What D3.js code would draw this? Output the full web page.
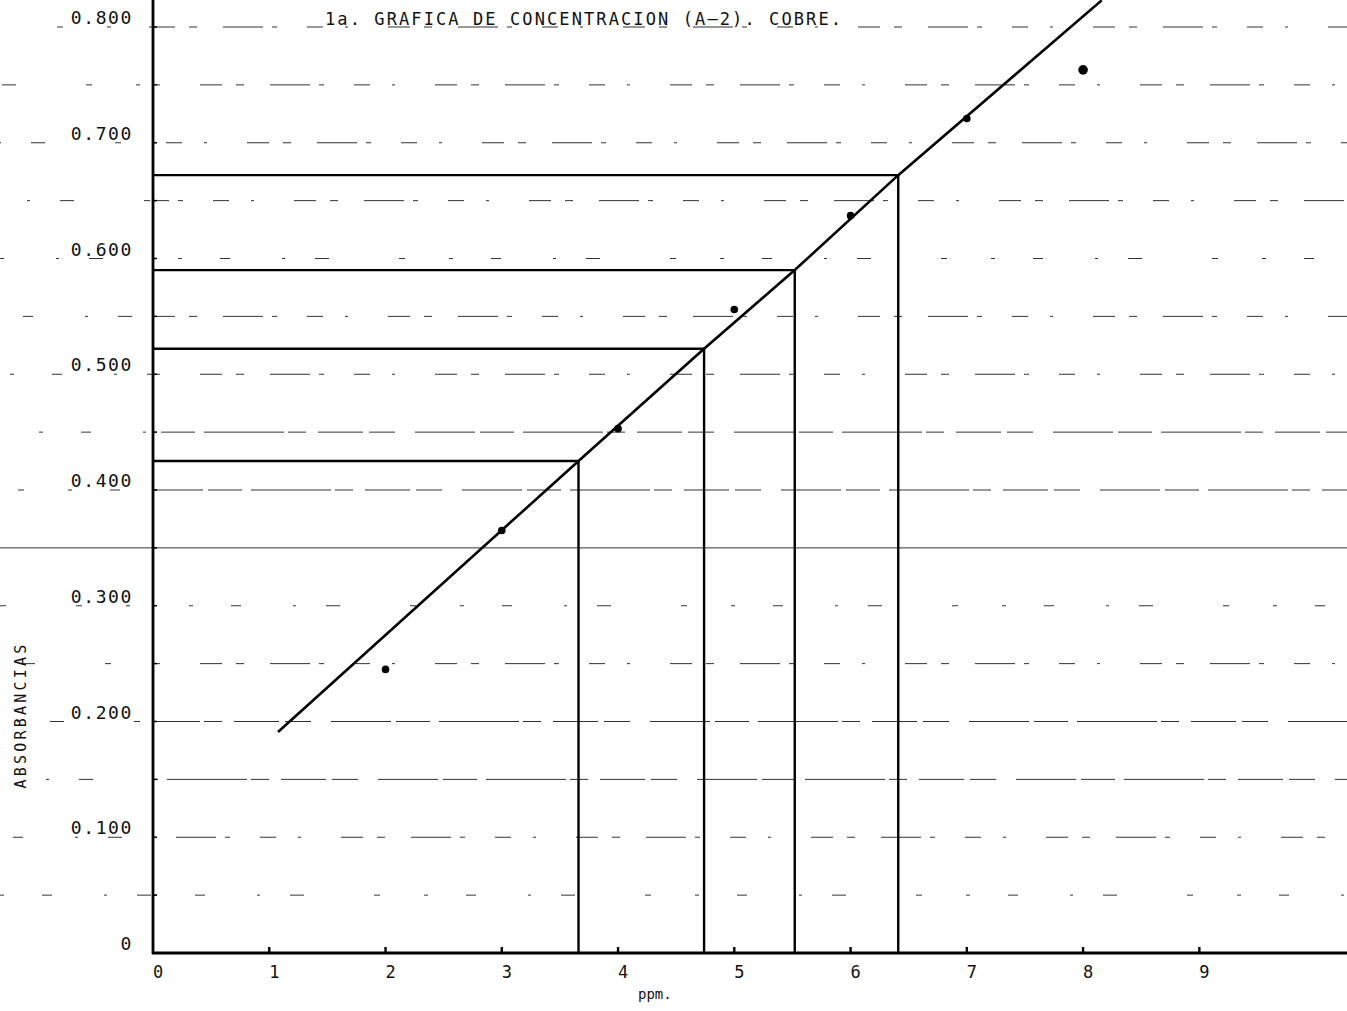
<!DOCTYPE html>
<html>
<head>
<meta charset="UTF-8">
<title>Grafica de concentracion</title>
<style>
  body { margin: 0; background: #fff; }
  svg { display: block; }
  text { font-family: 'DejaVu Sans Mono', 'Liberation Mono', monospace; fill: #111; }
  .grid line { stroke: #333; stroke-width: 1; }
  .axis line { stroke: #000; stroke-width: 2.8; }
  .ref line { stroke: #000; stroke-width: 2.4; }
  .calib { fill: none; stroke: #000; stroke-width: 2.6; }
</style>
</head>
<body>
<script src="https://cdnjs.cloudflare.com/ajax/libs/d3/7.8.5/d3.min.js"></script>
<script>
// data
var title = "1a. GRAFICA DE CONCENTRACION (A\u20132). COBRE.";
var xTicks = [0, 1, 2, 3, 4, 5, 6, 7, 8, 9];
var yTicks = [0, 0.1, 0.2, 0.3, 0.4, 0.5, 0.6, 0.7, 0.8];
var yTickLabels = ["0", "0.100", "0.200", "0.300", "0.400", "0.500", "0.600", "0.700", "0.800"];
var gridRows = [0.05, 0.10, 0.15, 0.20, 0.25, 0.30, 0.35, 0.40, 0.45, 0.50, 0.55, 0.60, 0.65, 0.70, 0.75, 0.80];
// measured standards (ppm, absorbance)
var stdPpm = [2, 3, 4, 5, 6, 7, 8];
var stdAbs = [0.245, 0.365, 0.453, 0.556, 0.637, 0.721, 0.763];
// hand drawn calibration line
var lineX = [1.075, 3.66, 4.74, 5.52, 6.41, 8.16];
var lineY = [0.191, 0.425, 0.522, 0.590, 0.672, 0.823];
// samples read back on the line
var sampleX = [3.66, 4.74, 5.52, 6.41];
var sampleY = [0.425, 0.522, 0.590, 0.672];

var width = 1347, height = 1011;
var x0 = 153, y0 = 953;

var x = d3.scaleLinear().domain([0, 10.27]).range([x0, width]);
var y = d3.scaleLinear().domain([0, 0.8]).range([y0, 27]);

// dash look of the scanned grid paper, by row
var dashStyle = {
    s: "4,38,10,52,3,30,14,70,6,44",
    m: "22,14,8,26,40,9,5,30,16,22,3,40",
    d: "60,5,34,9,80,4,18,12,45,6,26,20",
    solid: "none"
};
var rowLook = ["s", "m", "d", "d", "m", "s", "solid", "d", "d", "m", "m", "s", "m", "m", "m", "m"];

var svg = d3.select("body").append("svg")
    .attr("width", width)
    .attr("height", height);

// grid
var grid = svg.append("g").attr("class", "grid");
grid.selectAll("line.right")
    .data(gridRows)
    .enter().append("line")
    .attr("class", "right")
    .attr("x1", x0).attr("x2", width)
    .attr("y1", function(d) { return y(d); })
    .attr("y2", function(d) { return y(d); })
    .attr("stroke-dasharray", function(d, i) { return dashStyle[rowLook[i]]; })
    .attr("stroke-dashoffset", function(d, i) { return i * 47; });

grid.selectAll("line.left")
    .data(gridRows)
    .enter().append("line")
    .attr("class", "left")
    .attr("x1", 0).attr("x2", x0)
    .attr("y1", function(d) { return y(d); })
    .attr("y2", function(d) { return y(d); })
    .attr("stroke-dasharray", function(d, i) { return rowLook[i] == "solid" ? "none" : dashStyle.s; })
    .attr("stroke-dashoffset", function(d, i) { return i * 29; });

// reference lines (vertical from axis, horizontal to axis)
var ref = svg.append("g").attr("class", "ref");
ref.selectAll("line.v")
    .data(sampleX)
    .enter().append("line")
    .attr("class", "v")
    .attr("x1", function(d) { return x(d); })
    .attr("x2", function(d) { return x(d); })
    .attr("y1", y(0))
    .attr("y2", function(d, i) { return y(sampleY[i]); });
ref.selectAll("line.h")
    .data(sampleY)
    .enter().append("line")
    .attr("class", "h")
    .attr("x1", x(0))
    .attr("x2", function(d, i) { return x(sampleX[i]); })
    .attr("y1", function(d) { return y(d); })
    .attr("y2", function(d) { return y(d); });

// calibration line
var line = d3.line()
    .x(function(d) { return x(d[0]); })
    .y(function(d) { return y(d[1]); });
svg.append("path")
    .attr("class", "calib")
    .attr("d", line(d3.zip(lineX, lineY)));

// standards
svg.append("g").selectAll("circle")
    .data(d3.zip(stdPpm, stdAbs))
    .enter().append("circle")
    .attr("cx", function(d) { return x(d[0]); })
    .attr("cy", function(d) { return y(d[1]); })
    .attr("r", function(d) { return d[0] == 8 ? 4.8 : 3.8; })
    .attr("fill", "#000");

// axes
var axis = svg.append("g").attr("class", "axis");
axis.append("line").attr("x1", x0).attr("x2", x0).attr("y1", 0).attr("y2", y0 + 1);
axis.append("line").attr("x1", x0 - 1).attr("x2", width).attr("y1", y0).attr("y2", y0);
axis.selectAll("line.xt")
    .data(xTicks.slice(1))
    .enter().append("line")
    .attr("class", "xt")
    .style("stroke-width", 2.4)
    .attr("x1", function(d) { return x(d); })
    .attr("x2", function(d) { return x(d); })
    .attr("y1", y0).attr("y2", y0 - 6);
axis.selectAll("line.yt")
    .data(gridRows)
    .enter().append("line")
    .attr("class", "yt")
    .style("stroke-width", 1.5)
    .attr("x1", x0).attr("x2", x0 + 4)
    .attr("y1", function(d) { return y(d); })
    .attr("y2", function(d) { return y(d); });

// tick labels
svg.append("g").selectAll("text")
    .data(xTicks)
    .enter().append("text")
    .attr("x", function(d) { return x(d) + 5; })
    .attr("y", 978)
    .attr("text-anchor", "middle")
    .style("font-size", "17px")
    .text(function(d) { return d; });

svg.append("g").selectAll("text")
    .data(yTicks)
    .enter().append("text")
    .attr("x", 133)
    .attr("y", function(d) { return y(d) - 3; })
    .attr("text-anchor", "end")
    .style("font-size", "18px")
    .style("letter-spacing", "1.6px")
    .text(function(d, i) { return yTickLabels[i]; });

// titles
svg.append("text")
    .attr("x", 325).attr("y", 25)
    .style("font-size", "17px")
    .style("letter-spacing", "2.1px")
    .text(title);

svg.append("text")
    .attr("x", 638).attr("y", 999)
    .style("font-size", "14px")
    .text("ppm.");

svg.append("text")
    .attr("transform", "translate(26,715) rotate(-90)")
    .attr("text-anchor", "middle")
    .style("font-size", "15px")
    .style("letter-spacing", "3.2px")
    .text("ABSORBANCIAS");
</script>
</body>
</html>
